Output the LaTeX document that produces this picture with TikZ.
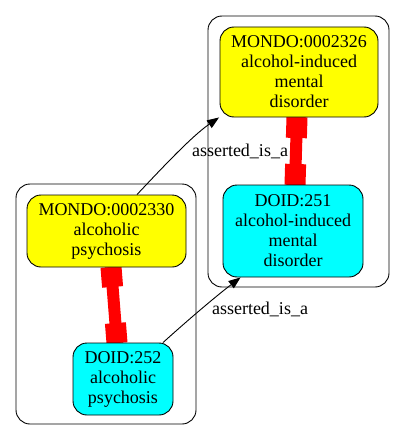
\documentclass[tikz,border=0pt]{standalone}
\usepackage{fontspec}
\setmainfont{LiberationSerif}[Extension=.ttf,UprightFont=*-Regular]
\usetikzlibrary{arrows.meta,calc}
\definecolor{aqua}{RGB}{0,255,255}
\definecolor{yel}{RGB}{255,255,0}
\begin{document}
\begin{tikzpicture}[x=1pt,y=-1pt,
  font=\rmfamily\fontsize{18}{20}\selectfont,
  termbox/.style={draw, rounded corners=14pt, align=center, inner sep=0pt, line width=0.9pt},
  mondo/.style={termbox, fill=yel},
  doid/.style={termbox, fill=aqua},
  cluster/.style={draw, rounded corners=14pt, line width=0.9pt, inner sep=0pt},
  assert/.style={draw, line width=0.9pt, -{Triangle[length=12pt,width=9pt]}},
  redwide/.style={draw=red, line width=21pt},
  rednarrow/.style={draw=red, line width=12pt}]
\useasboundingbox (0,0) rectangle (405,441);
% clusters
\node[cluster, minimum width=181, minimum height=271] (clR) at (298.5,151.5) {};
\node[cluster, minimum width=180, minimum height=240] (clL) at (106,304) {};
% red equivalence edges (drawn under nodes)
\coordinate (rt) at (297,117);
\coordinate (rb) at (295,185);
\coordinate (lt) at (111,267);
\coordinate (lb) at (117,343);
\path[rednarrow] (rt) -- (rb);
\path[redwide] (rt) -- ($(rt)!21pt!(rb)$);
\path[redwide] ($(rb)!21pt!(rt)$) -- (rb);
\path[rednarrow] (lt) -- (lb);
\path[redwide] (lt) -- ($(lt)!20pt!(lb)$);
\path[redwide] ($(lb)!20pt!(lt)$) -- (lb);
% nodes
\node[mondo, minimum width=158, minimum height=90] (m2326) at (299,72) {MONDO:0002326\\alcohol-induced\\mental\\disorder};
\node[doid, minimum width=140, minimum height=92] (d251) at (293,231) {DOID:251\\alcohol-induced\\mental\\disorder};
\node[mondo, minimum width=159, minimum height=72] (m2330) at (106.5,231) {MONDO:0002330\\alcoholic\\psychosis};
\node[doid, minimum width=100, minimum height=72] (d252) at (123,379) {DOID:252\\alcoholic\\psychosis};
% asserted edges
\coordinate (s1) at ($(m2330.north)+(30.5,0)$);
\coordinate (e1) at ($(m2326.south west)+(-0.5,0)$);
\coordinate (s2) at ($(d252.north)+(40,0)$);
\coordinate (e2) at ($(d251.south west)+(18,0)$);
\draw[assert] (s1) .. controls (162,168) and (192,136) .. (e1);
\draw[assert] (s2) .. controls (188,320) and (215,297) .. (e2);
\node (lab1) at (240,151) {asserted\_is\_a};
\node (lab2) at (260,309) {asserted\_is\_a};
\end{tikzpicture}
\end{document}
